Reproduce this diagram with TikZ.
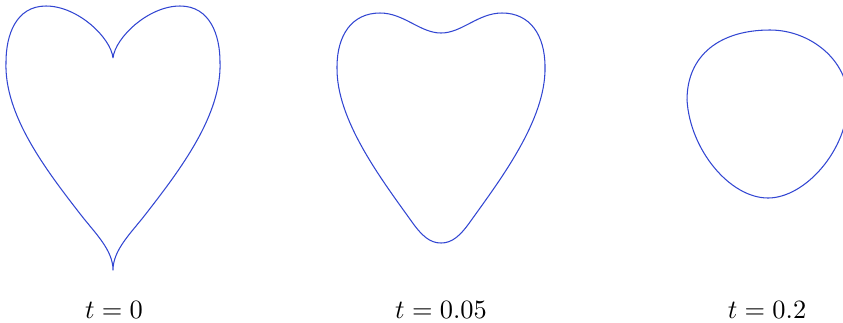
\documentclass[tikz,border=0pt]{standalone}
\definecolor{curveblue}{RGB}{50,70,210}
\begin{document}
\begin{tikzpicture}[x=0.3788pt,y=-0.3788pt,
  curve/.style={draw=curveblue,line width=0.4pt,line join=round},
  lbl/.style={anchor=base,inner sep=0pt}]
\useasboundingbox (0,0) rectangle (843,322);
\clip (0,0) rectangle (843,322);
% t = 0 heart
\coordinate (h1top) at (113,58);
\coordinate (h1bot) at (113,270);
\draw[curve] (h1top) .. controls (115,38) and (148,6) .. (180,6)
  .. controls (210,6) and (220,35) .. (220,62)
  .. controls (222,115) and (180,170) .. (145,215)
  .. controls (131,233) and (113,250) .. (h1bot)
  .. controls (113,250) and (95,233) .. (81,215)
  .. controls (46,170) and (4,115) .. (6,62)
  .. controls (6,35) and (16,6) .. (46,6)
  .. controls (78,6) and (111,38) .. (h1top);
% t = 0.05
\coordinate (h2top) at (441,33);
\coordinate (h2bot) at (441,243);
\draw[curve] (h2top) .. controls (462,33) and (478,13) .. (502,13)
  .. controls (530,13) and (545,35) .. (545,67)
  .. controls (546,120) and (500,180) .. (470,222)
  .. controls (460,236) and (452,243) .. (h2bot)
  .. controls (430,243) and (422,236) .. (412,222)
  .. controls (382,180) and (336,120) .. (337,67)
  .. controls (337,35) and (352,13) .. (380,13)
  .. controls (404,13) and (420,33) .. (h2top) -- cycle;
% t = 0.2
\coordinate (b3top) at (770,30);
\draw[curve] (b3top) .. controls (810,30) and (848,60) .. (848,100)
  .. controls (848,150) and (805,198) .. (768,198)
  .. controls (730,198) and (690,150) .. (687,100)
  .. controls (687,55) and (720,30) .. (b3top) -- cycle;
% labels
\node[lbl] (l1) at (114,318) {$t=0$};
\node[lbl] (l2) at (441,318) {$t=0.05$};
\node[lbl] (l3) at (767,318) {$t=0.2$};
\end{tikzpicture}
\end{document}
